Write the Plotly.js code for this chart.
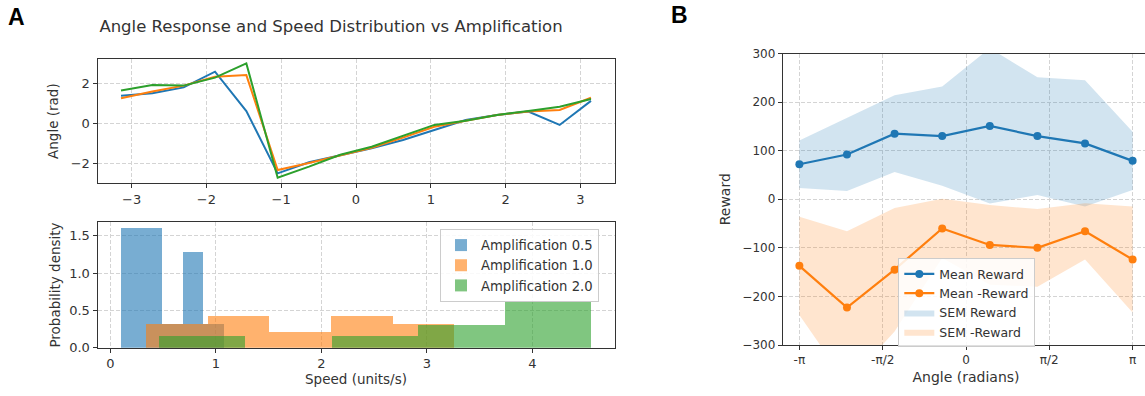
<!DOCTYPE html>
<html>
<head>
<meta charset="utf-8">
<script src="https://cdn.plot.ly/plotly-3.0.1.min.js"></script>
<style>
html,body{margin:0;padding:0;background:#fff;overflow:hidden;}
#chart{width:1152px;height:396px;}
.barlayer path{shape-rendering:crispEdges;}
</style>
</head>
<body>
<div id="chart"></div>
<script>
// ---------- Panel A (top): angle response ----------
const inputAngle = [-3.1416, -2.7227, -2.3038, -1.8850, -1.4661, -1.0472, -0.6283, -0.2094,
                    0.2094, 0.6283, 1.0472, 1.4661, 1.8850, 2.3038, 2.7227, 3.1416];
const angleAmp05 = [1.39, 1.51, 1.81, 2.60, 0.62, -2.52, -1.96, -1.62, -1.26, -0.84, -0.34, 0.17, 0.42, 0.59, -0.08, 1.13];
const angleAmp10 = [1.26, 1.60, 1.90, 2.35, 2.43, -2.35, -2.00, -1.60, -1.23, -0.72, -0.17, 0.13, 0.42, 0.59, 0.67, 1.29];
const angleAmp20 = [1.65, 1.93, 1.90, 2.30, 3.02, -2.74, -2.18, -1.58, -1.18, -0.62, -0.08, 0.13, 0.42, 0.62, 0.84, 1.23];

// ---------- Panel A (bottom): speed histograms (density) ----------
const speedEdges05 = [0.100, 0.295, 0.490, 0.685, 0.880, 1.075];
const speedDens05  = [1.60, 1.60, 0.32, 1.28, 0.32];
const speedEdges10 = [0.335, 0.920, 1.505, 2.090, 2.675, 3.260];
const speedDens10  = [0.32, 0.427, 0.214, 0.427, 0.32];
const speedEdges20 = [0.456, 1.276, 2.096, 2.916, 3.736, 4.556];
const speedDens20  = [0.152, 0.0, 0.152, 0.305, 0.61];
const histNames = ["Amplification 0.5", "Amplification 1.0", "Amplification 2.0"];

// ---------- Panel B: reward vs angle ----------
const rewardAngle = [-3.1416, -2.2440, -1.3464, -0.4488, 0.4488, 1.3464, 2.2440, 3.1416];
const meanReward    = [72, 92, 135, 130, 151, 130, 115, 79];
const semReward     = [49, 75, 79, 102, 160, 121, 130, 60];
const meanNegReward = [-137, -223, -145, -60, -94, -100, -66, -124];
const semNegReward  = [101, 157, 127, 61, 82, 80, 58, 109];
const piTickVals = [-Math.PI, -Math.PI/2, 0, Math.PI/2, Math.PI];
const piTickText = ["-π", "-π/2", "0", "π/2", "π"];

const C_BLUE = "#1f77b4", C_ORANGE = "#ff7f0e", C_GREEN = "#2ca02c";
const FONT = "DejaVu Sans, sans-serif";
const TXT = "#333333";

function histTrace(edges, dens, color, name, xa, ya) {
  const x = [], w = [];
  for (let i = 0; i < dens.length; i++) {
    x.push((edges[i] + edges[i+1]) / 2);
    w.push(edges[i+1] - edges[i]);
  }
  return {type: "bar", x: x, y: dens, width: w, name: name, xaxis: xa, yaxis: ya,
          marker: {color: color, line: {width: 0}}, opacity: 0.6, legend: "legend"};
}
function band(xs, mean, sem, color, name, rank) {
  const up = mean.map((m, i) => m + sem[i]);
  const lo = mean.map((m, i) => m - sem[i]);
  return {type: "scatter", mode: "lines", x: xs.concat(xs.slice().reverse()),
          y: up.concat(lo.slice().reverse()), fill: "toself", fillcolor: color,
          line: {width: 0, color: color}, name: name, xaxis: "x3", yaxis: "y3",
          legend: "legend2", legendrank: rank, hoverinfo: "skip"};
}

const data = [
  {type: "scatter", mode: "lines", x: inputAngle, y: angleAmp05, line: {color: C_BLUE, width: 2}, showlegend: false, xaxis: "x", yaxis: "y"},
  {type: "scatter", mode: "lines", x: inputAngle, y: angleAmp10, line: {color: C_ORANGE, width: 2}, showlegend: false, xaxis: "x", yaxis: "y"},
  {type: "scatter", mode: "lines", x: inputAngle, y: angleAmp20, line: {color: C_GREEN, width: 2}, showlegend: false, xaxis: "x", yaxis: "y"},
  histTrace(speedEdges05, speedDens05, C_BLUE, histNames[0], "x2", "y2"),
  histTrace(speedEdges10, speedDens10, C_ORANGE, histNames[1], "x2", "y2"),
  histTrace(speedEdges20, speedDens20, C_GREEN, histNames[2], "x2", "y2"),
  band(rewardAngle, meanReward, semReward, "rgba(31,119,180,0.2)", "SEM Reward", 3),
  band(rewardAngle, meanNegReward, semNegReward, "rgba(255,127,14,0.2)", "SEM -Reward", 4),
  {type: "scatter", mode: "lines+markers", x: rewardAngle, y: meanReward, name: "Mean Reward",
   line: {color: C_BLUE, width: 2.2}, marker: {color: C_BLUE, size: 8}, xaxis: "x3", yaxis: "y3", legend: "legend2", legendrank: 1},
  {type: "scatter", mode: "lines+markers", x: rewardAngle, y: meanNegReward, name: "Mean -Reward",
   line: {color: C_ORANGE, width: 2.2}, marker: {color: C_ORANGE, size: 8}, xaxis: "x3", yaxis: "y3", legend: "legend2", legendrank: 2}
];

const W = 1152, H = 396;
const fx = p => p / W, fy = p => (H - p) / H;

function ax(extra, fs) {
  return Object.assign({
    showgrid: true, gridcolor: "#d4d4d4", griddash: "4px,2px", gridwidth: 1,
    showline: true, mirror: true, linecolor: "#333333", linewidth: 1,
    ticks: "outside", ticklen: 4, tickcolor: "#333333", tickwidth: 1,
    zeroline: false, tickfont: {family: FONT, size: fs, color: TXT}
  }, extra);
}
const A_TICK = 13, A_TITLE = 13.5, B_TICK = 12, B_TITLE = 14;

const layout = {
  width: W, height: H,
  margin: {l: 0, r: 0, t: 0, b: 0},
  paper_bgcolor: "#ffffff", plot_bgcolor: "#ffffff",
  font: {family: FONT, color: TXT},
  barmode: "overlay",
  title: {text: "Angle Response and Speed Distribution vs Amplification",
          x: fx(331), xref: "paper", xanchor: "center", y: fy(26), yref: "paper", yanchor: "middle",
          font: {family: FONT, size: 16.5, color: TXT}},
  xaxis: ax({domain: [fx(97.5), fx(614.5)], range: [-3.456, 3.456], tickvals: [-3,-2,-1,0,1,2,3], anchor: "y"}, A_TICK),
  yaxis: ax({domain: [fy(183.3), fy(59)], range: [-3.02, 3.24], tickvals: [-2,0,2], anchor: "x",
             title: {text: "Angle (rad)", font: {family: FONT, size: A_TITLE, color: TXT}, standoff: 8}}, A_TICK),
  xaxis2: ax({domain: [fx(97.5), fx(614.5)], range: [-0.123, 4.779], tickvals: [0,1,2,3,4], anchor: "y2",
              title: {text: "Speed (units/s)", font: {family: FONT, size: A_TITLE, color: TXT}, standoff: 3}}, A_TICK),
  yaxis2: ax({domain: [fy(347.7), fy(222.3)], range: [0, 1.68], tickvals: [0,0.5,1,1.5], tickformat: ".1f", anchor: "x2",
              title: {text: "Probability density", font: {family: FONT, size: A_TITLE, color: TXT}, standoff: 5}}, A_TICK),
  xaxis3: ax({domain: [fx(782.7), fx(1149.3)], range: [-3.456, 3.456], tickvals: piTickVals, ticktext: piTickText, anchor: "y3",
              title: {text: "Angle (radians)", font: {family: FONT, size: B_TITLE, color: TXT}, standoff: 5}}, B_TICK),
  yaxis3: ax({domain: [fy(345), fy(53.5)], range: [-300, 300], dtick: 100, anchor: "x3",
              title: {text: "Reward", font: {family: FONT, size: B_TITLE, color: TXT}, standoff: 8}}, B_TICK),
  legend: {x: fx(440), y: fy(229), xanchor: "left", yanchor: "top", xref: "paper", yref: "paper",
           bgcolor: "rgba(255,255,255,0.85)", bordercolor: "#cccccc", borderwidth: 1,
           font: {family: FONT, size: 13.2, color: TXT}, traceorder: "normal"},
  legend2: {x: fx(898.3), y: fy(258.3), xanchor: "left", yanchor: "top", xref: "paper", yref: "paper",
           bgcolor: "rgba(255,255,255,0.85)", bordercolor: "#cccccc", borderwidth: 1,
           font: {family: FONT, size: 12.5, color: TXT}, traceorder: "normal"},
  annotations: [
    {text: "<b>A</b>", x: fx(6), y: fy(17), xref: "paper", yref: "paper", xanchor: "left", yanchor: "middle",
     showarrow: false, font: {family: "Liberation Sans, Arial, sans-serif", size: 23, color: "#000"}},
    {text: "<b>B</b>", x: fx(669), y: fy(15), xref: "paper", yref: "paper", xanchor: "left", yanchor: "middle",
     showarrow: false, font: {family: "Liberation Sans, Arial, sans-serif", size: 23, color: "#000"}}
  ]
};

Plotly.newPlot("chart", data, layout, {displayModeBar: false, responsive: false});
</script>
</body>
</html>
